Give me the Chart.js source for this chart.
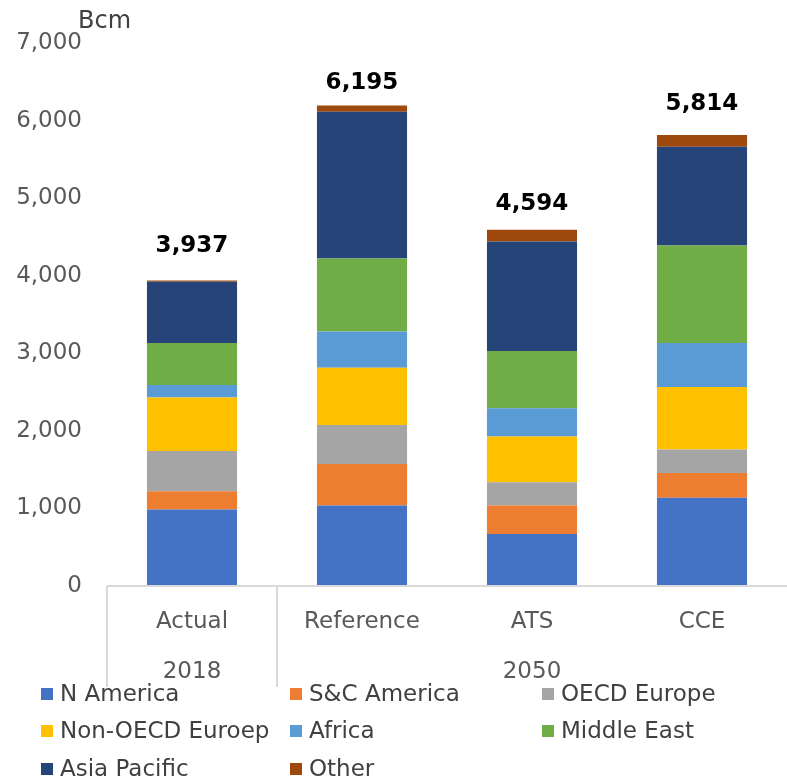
<!DOCTYPE html>
<html>
<head>
<meta charset="utf-8">
<script src="https://cdn.jsdelivr.net/npm/chart.js@4"></script>
<style>
	body { margin: 0; background: #fff; }
	#wrap { position: relative; width: 787px; height: 783px; }
	#legend {
		position: absolute;
		left: 41px;
		top: 674px;
		display: grid;
		grid-template-columns: 249px 252px 200px;
		grid-auto-rows: 37.5px;
		font: 23px "DejaVu Sans", sans-serif;
		color: #404040;
	}
	#legend span.item { display: flex; align-items: center; white-space: nowrap; }
	#legend i { display: inline-block; width: 12px; height: 12px; margin-right: 7px; margin-top: 2px; }
</style>
</head>
<body>
<div id="wrap">
	<canvas id="gasChart" width="787" height="783"></canvas>
	<div id="legend"></div>
</div>
<script>
const categories = ["Actual", "Reference", "ATS", "CCE"];
const groups = [
	{ label: "2018", from: 0, to: 0 },
	{ label: "2050", from: 1, to: 3 },
];
const regions = ["N America", "S&C America", "OECD Europe", "Non-OECD Euroep", "Africa", "Middle East", "Asia Pacific", "Other"];

// Bcm per region, one value per category
const nAmerica = [987, 1039, 669, 1137];
const scAmerica = [236, 535, 370, 321];
const oecdEurope = [518, 502, 299, 301];
const nonOecdEurope = [688, 738, 589, 806];
const africa = [162, 468, 364, 566];
const middleEast = [540, 939, 737, 1258];
const asiaPacific = [791, 1892, 1412, 1274];
const other = [15, 82, 154, 151];

const yTicks = [0, 1000, 2000, 3000, 4000, 5000, 6000, 7000];

const colors = ["#4472C4", "#ED7D31", "#A5A5A5", "#FFC000", "#5B9BD5", "#70AD47", "#264478", "#9E480E"];
const series = [nAmerica, scAmerica, oecdEurope, nonOecdEurope, africa, middleEast, asiaPacific, other];
// how far each total sits above its bar
const totalLift = [35, 22, 26, 31];

const fmt = (v) => v.toLocaleString("en-US");
const grey = "#595959";
const lineColor = "#d9d9d9";

const extras = {
	id: "extras",
	afterDraw(chart) {
		const c = chart.ctx;
		const x = chart.scales.x;
		const y = chart.scales.y;
		const area = chart.chartArea;
		const groupBottom = area.bottom + 101;

		c.save();
		// category axis line and group separators
		c.strokeStyle = lineColor;
		c.lineWidth = 2;
		c.beginPath();
		c.moveTo(area.left, area.bottom);
		c.lineTo(area.right, area.bottom);
		const seps = [area.left];
		groups.slice(1).forEach((g) => {
			seps.push((x.getPixelForValue(g.from - 1) + x.getPixelForValue(g.from)) / 2);
		});
		seps.forEach((sx) => {
			c.moveTo(sx, area.bottom);
			c.lineTo(sx, groupBottom);
		});
		c.stroke();

		// group labels
		c.fillStyle = grey;
		c.font = '23px "DejaVu Sans", sans-serif';
		c.textAlign = "center";
		c.textBaseline = "middle";
		groups.forEach((g) => {
			const left = g.from === 0 ? area.left : (x.getPixelForValue(g.from - 1) + x.getPixelForValue(g.from)) / 2;
			const right = g.to === categories.length - 1 ? area.right : (x.getPixelForValue(g.to) + x.getPixelForValue(g.to + 1)) / 2;
			c.fillText(g.label, (left + right) / 2, area.bottom + 86);
		});

		// stack totals
		c.fillStyle = "#000";
		c.font = 'bold 23px "DejaVu Sans", sans-serif';
		categories.forEach((cat, i) => {
			const total = series.reduce((s, arr) => s + arr[i], 0);
			c.fillText(fmt(total), x.getPixelForValue(i), y.getPixelForValue(total) - totalLift[i]);
		});

		// unit
		c.fillStyle = "#404040";
		c.font = '24px "DejaVu Sans", sans-serif';
		c.textAlign = "left";
		c.fillText("Bcm", area.left - 29, area.top - 21);
		c.restore();
	},
};

const chart = new Chart(document.getElementById("gasChart"), {
	type: "bar",
	data: {
		labels: categories,
		datasets: regions.map((name, k) => ({
			label: name,
			data: series[k],
			backgroundColor: colors[k],
			borderWidth: 0,
			barPercentage: 0.53,
			categoryPercentage: 1,
		})),
	},
	options: {
		responsive: false,
		animation: false,
		layout: { padding: { top: 43, left: 0, right: 0, bottom: 0 } },
		scales: {
			x: {
				stacked: true,
				grid: { display: false, drawTicks: false },
				border: { display: false },
				ticks: {
					color: grey,
					padding: 22,
					font: { family: "DejaVu Sans", size: 23 },
				},
				afterFit: (scale) => { scale.height = 197; },
			},
			y: {
				stacked: true,
				min: 0,
				max: 7000,
				grid: { display: false, drawTicks: false },
				border: { display: false },
				afterBuildTicks: (scale) => { scale.ticks = yTicks.map((v) => ({ value: v })); },
				ticks: {
					color: grey,
					padding: 25,
					font: { family: "DejaVu Sans", size: 23 },
					callback: (v) => fmt(v),
				},
				afterFit: (scale) => { scale.width = 107; },
			},
		},
		plugins: {
			legend: { display: false },
			tooltip: { enabled: false },
		},
	},
	plugins: [extras],
});

// three-column legend built from the datasets
const legendBox = document.getElementById("legend");
chart.data.datasets.forEach((ds) => {
	const item = document.createElement("span");
	item.className = "item";
	const sw = document.createElement("i");
	sw.style.background = ds.backgroundColor;
	item.appendChild(sw);
	item.appendChild(document.createTextNode(ds.label));
	legendBox.appendChild(item);
});
</script>
</body>
</html>
